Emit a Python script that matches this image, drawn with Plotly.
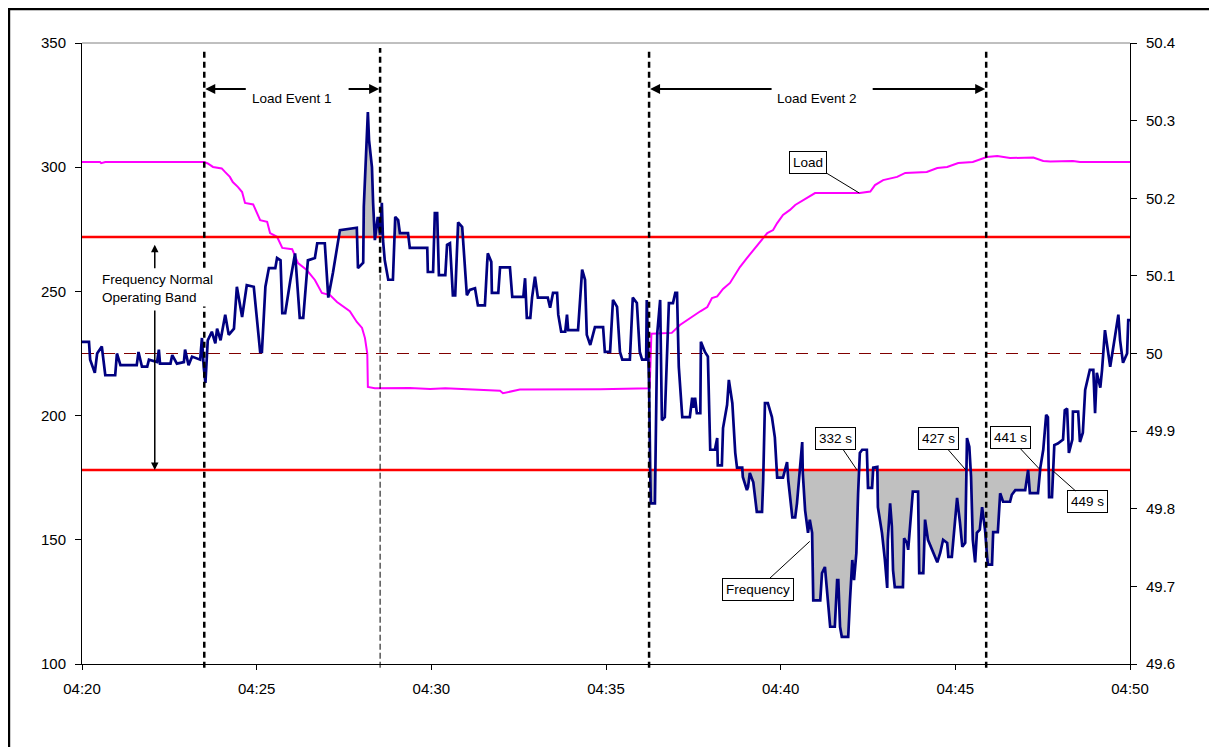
import plotly.graph_objects as go
import pandas as pd

base = pd.Timestamp('2024-01-01 04:20:00')

# Load (MW, left axis), seconds after 04:20:00
load_sec = [0, 31, 33, 40, 210, 216, 225, 240, 246, 254, 259, 268, 275, 280, 294, 301, 306, 318, 323, 335,
            344, 361, 371, 386, 400, 412, 426, 438, 448, 460, 472, 481, 486, 490, 491, 503, 563, 598, 624, 649,
            684, 718, 723, 732, 752, 890, 972, 975, 978, 1013, 1027, 1039, 1049, 1062, 1074, 1082, 1091, 1101,
            1113, 1122, 1130, 1142, 1153, 1165, 1177, 1187, 1194, 1204, 1216, 1225, 1233, 1245, 1259, 1336,
            1354, 1362, 1376, 1400, 1414, 1451, 1469, 1486, 1505, 1530, 1554, 1572, 1594, 1634, 1651, 1663,
            1702, 1714, 1800]
load_mw = [302.1, 302.1, 301.6, 302.1, 302.1, 301.5, 300.1, 299.5, 298.0, 296.1, 294.0, 292.0, 290.0, 285.6,
           285.0, 281.6, 278.7, 278.0, 273.5, 272.0, 267.5, 267.0, 261.4, 258.6, 254.6, 249.4, 248.5, 245.7,
           244.0, 242.0, 237.7, 235.3, 231.2, 225.0, 211.5, 211.0, 211.1, 210.7, 211.0, 210.8, 210.5, 210.0,
           209.0, 209.5, 210.5, 210.6, 210.7, 211.0, 233.0, 233.3, 236.5, 238.5, 240.0, 242.0, 243.7, 247.3,
           248.0, 251.0, 253.4, 256.6, 259.8, 263.4, 266.7, 269.9, 273.5, 274.7, 277.5, 280.8, 282.8, 284.8,
           286.0, 287.6, 289.6, 289.6, 290.2, 292.8, 294.8, 296.1, 297.7, 298.1, 299.7, 300.1, 301.7, 302.1,
           304.1, 304.5, 303.7, 303.9, 302.5, 302.3, 302.5, 302.1, 302.1]

# Frequency (Hz, right axis), seconds after 04:20:00
freq_sec = [0, 12, 14, 22, 26, 34, 40, 57, 60, 66, 94, 97, 103, 112, 115, 129, 132, 134, 152, 155, 163, 175,
            177, 183, 189, 203, 206, 209, 212, 216, 223, 229, 232, 238, 246, 252, 261, 263, 266, 275, 283, 295,
            301, 306, 309, 315, 321, 332, 335, 341, 344, 349, 358, 366, 374, 380, 388, 400, 404, 417, 423, 431,
            443, 472, 474, 483, 484, 490, 491, 493, 496, 498, 500, 503, 508, 512, 515, 517, 520, 526, 534, 538,
            543, 546, 560, 563, 593, 594, 603, 606, 610, 613, 624, 627, 632, 637, 641, 646, 653, 661, 666, 675,
            680, 692, 696, 697, 703, 704, 715, 718, 735, 739, 758, 761, 764, 770, 773, 778, 783, 800, 804, 809,
            816, 818, 823, 830, 833, 835, 852, 859, 864, 867, 873, 881, 895, 898, 907, 912, 919, 924, 928, 941,
            946, 953, 958, 962, 969, 970, 972, 974, 976, 977, 984, 986, 988, 993, 996, 1001, 1005, 1008, 1015,
            1019, 1022, 1025, 1031, 1044, 1048, 1050, 1053, 1056, 1062, 1063, 1070, 1075, 1079, 1087, 1091,
            1092, 1099, 1101, 1108, 1111, 1117, 1122, 1125, 1134, 1135, 1142, 1144, 1147, 1153, 1159, 1168,
            1170, 1173, 1178, 1185, 1190, 1194, 1204, 1211, 1213, 1220, 1225, 1228, 1233, 1237, 1238, 1242,
            1247, 1250, 1254, 1256, 1268, 1271, 1276, 1280, 1285, 1293, 1297, 1299, 1302, 1305, 1316, 1319,
            1323, 1326, 1330, 1333, 1336, 1340, 1348, 1350, 1357, 1359, 1366, 1367, 1374, 1379, 1383, 1384,
            1388, 1391, 1393, 1396, 1410, 1412, 1417, 1419, 1427, 1436, 1438, 1445, 1448, 1453, 1462, 1469,
            1474, 1479, 1486, 1488, 1494, 1496, 1503, 1508, 1512, 1517, 1520, 1524, 1527, 1530, 1534, 1537,
            1542, 1546, 1551, 1555, 1556, 1563, 1565, 1573, 1577, 1582, 1594, 1597, 1603, 1620, 1625, 1628,
            1642, 1646, 1651, 1656, 1659, 1661, 1666, 1670, 1676, 1685, 1688, 1692, 1695, 1701, 1702, 1711,
            1714, 1719, 1723, 1731, 1737, 1740, 1743, 1749, 1752, 1757, 1766, 1774, 1780, 1783, 1788, 1795,
            1797, 1800]
freq_hz = [50.015, 50.015, 49.992, 49.975, 50.000, 50.009, 49.972, 49.972, 50.000, 49.985, 49.985, 50.002,
           49.983, 49.983, 49.992, 49.989, 50.005, 49.987, 49.987, 49.998, 49.987, 49.989, 50.005, 49.985,
           49.996, 49.992, 50.020, 49.983, 49.962, 50.017, 50.028, 50.013, 50.032, 50.017, 50.050, 50.024,
           50.032, 50.058, 50.086, 50.047, 50.088, 50.086, 50.035, 50.002, 50.002, 50.086, 50.110, 50.110,
           50.123, 50.120, 50.052, 50.052, 50.095, 50.129, 50.046, 50.046, 50.120, 50.123, 50.142, 50.142,
           50.072, 50.104, 50.159, 50.162, 50.110, 50.117, 50.189, 50.311, 50.311, 50.275, 50.249, 50.240,
           50.194, 50.146, 50.176, 50.153, 50.194, 50.146, 50.120, 50.095, 50.095, 50.176, 50.172, 50.155,
           50.155, 50.136, 50.136, 50.105, 50.105, 50.181, 50.181, 50.101, 50.101, 50.140, 50.142, 50.075,
           50.075, 50.169, 50.163, 50.075, 50.082, 50.084, 50.062, 50.062, 50.118, 50.129, 50.118, 50.078,
           50.078, 50.111, 50.111, 50.073, 50.073, 50.097, 50.046, 50.046, 50.072, 50.099, 50.072, 50.072,
           50.059, 50.078, 50.078, 50.050, 50.028, 50.028, 50.050, 50.030, 50.030, 50.108, 50.095, 50.024,
           50.011, 50.034, 50.034, 50.002, 50.002, 50.069, 50.060, 50.002, 49.992, 49.992, 50.072, 50.065,
           50.002, 49.992, 49.992, 50.069, 50.017, 49.959, 49.846, 49.807, 49.807, 49.940, 50.026, 50.069,
           49.914, 49.918, 50.005, 50.065, 50.065, 50.078, 50.078, 49.983, 49.918, 49.918, 49.943, 49.930,
           49.943, 49.923, 49.923, 50.015, 50.002, 49.996, 49.876, 49.876, 49.891, 49.856, 49.856, 49.904,
           49.934, 49.966, 49.936, 49.872, 49.853, 49.853, 49.841, 49.824, 49.828, 49.846, 49.834, 49.796,
           49.796, 49.837, 49.936, 49.936, 49.918, 49.892, 49.840, 49.840, 49.860, 49.837, 49.789, 49.789,
           49.807, 49.854, 49.886, 49.846, 49.798, 49.769, 49.786, 49.769, 49.682, 49.682, 49.717, 49.725,
           49.695, 49.648, 49.648, 49.708, 49.708, 49.648, 49.635, 49.635, 49.682, 49.734, 49.708, 49.743,
           49.820, 49.872, 49.876, 49.876, 49.827, 49.827, 49.853, 49.854, 49.802, 49.769, 49.734, 49.698,
           49.760, 49.807, 49.777, 49.721, 49.699, 49.699, 49.762, 49.756, 49.747, 49.822, 49.822, 49.717,
           49.717, 49.786, 49.760, 49.743, 49.731, 49.743, 49.760, 49.756, 49.738, 49.738, 49.756, 49.814,
           49.782, 49.751, 49.756, 49.891, 49.880, 49.841, 49.760, 49.731, 49.769, 49.773, 49.802, 49.773,
           49.734, 49.728, 49.728, 49.770, 49.770, 49.820, 49.809, 49.809, 49.818, 49.824, 49.824, 49.850,
           49.820, 49.820, 49.853, 49.876, 49.921, 49.918, 49.815, 49.815, 49.882, 49.884, 49.889, 49.927,
           49.929, 49.872, 49.889, 49.925, 49.925, 49.886, 49.898, 49.953, 49.979, 49.979, 49.923, 49.975,
           49.956, 49.979, 50.030, 49.983, 50.021, 50.050, 50.017, 49.988, 50.000, 50.043, 50.043]

band_hi = 50.15
band_lo = 49.85
nominal = 50.0
freq_ticks = [49.6, 49.7, 49.8, 49.9, 50.0, 50.1, 50.2, 50.3, 50.4]
freq_tick_text = ['49.6', '49.7', '49.8', '49.9', '50', '50.1', '50.2', '50.3', '50.4']

event_names = ['Load Event 1', 'Load Event 2']
event_start = ['04:23:30', '04:36:14']
event_end = ['04:28:32', '04:45:53']

callout_labels = ['332 s', '427 s', '441 s', '449 s']
callout_times = ['04:42:11', '04:45:18', '04:47:26', '04:47:46']


def at(hms):
    return pd.Timestamp('2024-01-01 ' + hms)


def excursion(sec, vals, level, above):
    # area between the frequency and a band limit, only where it is outside the band
    xs, ys = [], []
    for i in range(len(vals)):
        if i > 0:
            a, b = vals[i - 1] - level, vals[i] - level
            if a * b < 0:
                xs.append(sec[i - 1] + (sec[i] - sec[i - 1]) * a / (a - b))
                ys.append(level)
        ys.append(max(vals[i], level) if above else min(vals[i], level))
        xs.append(sec[i])
    t = [base + pd.Timedelta(seconds=s) for s in xs]
    return t + t[::-1], ys + [level] * len(ys)


load_t = [base + pd.Timedelta(seconds=s) for s in load_sec]
freq_t = [base + pd.Timedelta(seconds=s) for s in freq_sec]
t_end = base + pd.Timedelta(minutes=30)

fig = go.Figure()

for level, above in [(band_hi, True), (band_lo, False)]:
    fx, fy = excursion(freq_sec, freq_hz, level, above)
    fig.add_trace(go.Scatter(x=fx, y=fy, yaxis='y2', fill='toself', fillcolor='#C0C0C0',
                             line=dict(width=0), mode='lines', hoverinfo='skip'))

for level in [band_hi, band_lo]:
    fig.add_trace(go.Scatter(x=[base, t_end], y=[level, level], yaxis='y2', mode='lines',
                             line=dict(color='#FF0000', width=2.5), hoverinfo='skip'))
fig.add_trace(go.Scatter(x=[base, t_end], y=[nominal, nominal], yaxis='y2', mode='lines',
                         line=dict(color='#800000', width=1, dash='12px,9px'), hoverinfo='skip'))

fig.add_trace(go.Scatter(x=load_t, y=load_mw, mode='lines', name='Load',
                         line=dict(color='#FF00FF', width=2)))
fig.add_trace(go.Scatter(x=freq_t, y=freq_hz, yaxis='y2', mode='lines', name='Frequency',
                         line=dict(color='#000080', width=2.7)))

shapes = []
for t in event_start + event_end:
    if t == event_end[0]:
        shapes.append(dict(type='line', xref='x', yref='paper', x0=at(t), x1=at(t), y0=0.63, y1=0.992,
                           line=dict(color='black', width=2.5, dash='6px,4px')))
        shapes.append(dict(type='line', xref='x', yref='paper', x0=at(t), x1=at(t), y0=-0.006, y1=0.63,
                           line=dict(color='black', width=1, dash='6px,3px')))
    else:
        shapes.append(dict(type='line', xref='x', yref='paper', x0=at(t), x1=at(t), y0=-0.006, y1=0.992,
                           line=dict(color='black', width=2.5, dash='6px,4px')))
# plot frame top and outer border
shapes.append(dict(type='line', xref='paper', yref='paper', x0=0, x1=1, y0=1, y1=1,
                   line=dict(color='#808080', width=1)))
shapes.append(dict(type='rect', xref='paper', yref='paper', x0=-0.0697, x1=1.2, y0=-0.2, y1=1.0548,
                   line=dict(color='black', width=2.5)))

font_s = dict(family='Liberation Sans', size=13.5, color='black')
ann = []
arrow_tails = [(43, -33), (124, -115)]
for name, t0, t1, (a0, a1) in zip(event_names, event_start, event_end, arrow_tails):
    mid = at(t0) + (at(t1) - at(t0)) / 2
    ann.append(dict(x=mid, y=0.926, xref='x', yref='paper', text=name, showarrow=False, font=font_s))
    ann.append(dict(x=at(t0), y=0.926, xref='x', yref='paper', text='', showarrow=True, ax=a0, ay=0,
                    arrowhead=2, arrowsize=1, arrowwidth=2, arrowcolor='black', standoff=1))
    ann.append(dict(x=at(t1), y=0.926, xref='x', yref='paper', text='', showarrow=True, ax=a1, ay=0,
                    arrowhead=2, arrowsize=1, arrowwidth=2, arrowcolor='black', standoff=1))

ann.append(dict(x=0.072, y=0.604, xref='paper', yref='paper', text='Frequency Normal<br>Operating Band',
                showarrow=False, align='left', xanchor='center', yanchor='middle', bgcolor='white',
                font=font_s))
ann.append(dict(x=at('04:22:05'), y=50.14, xref='x', yref='y2', text='', showarrow=True, ax=0, ay=25,
                arrowhead=2, arrowsize=1, arrowwidth=1.5, arrowcolor='black'))
ann.append(dict(x=at('04:22:05'), y=49.85, xref='x', yref='y2', text='', showarrow=True, ax=0, ay=-161,
                arrowhead=2, arrowsize=1, arrowwidth=1.5, arrowcolor='black'))

callout_box = dict(showarrow=True, arrowhead=0, arrowwidth=1, arrowcolor='black', bgcolor='white',
                   bordercolor='black', borderwidth=1, borderpad=3, font=font_s)
offsets = [(-21, -31), (-27, -31), (-30, -32), (36, 32)]
for lab, t, (dx, dy) in zip(callout_labels, callout_times, offsets):
    ann.append(dict(x=at(t), y=band_lo, xref='x', yref='y2', text=lab, ax=dx, ay=dy, **callout_box))
ann.append(dict(x=at('04:42:15'), y=289.6, xref='x', yref='y', text='Load', ax=-51, ay=-31, **callout_box))
ann.append(dict(x=at('04:40:50'), y=49.758, xref='x', yref='y2', text='Frequency', ax=-52, ay=48,
                **callout_box))

tick_font = dict(family='Liberation Sans', size=15, color='black')
fig.update_layout(
    width=1209, height=739,
    margin=dict(l=74, r=87, t=35, b=83),
    plot_bgcolor='white', paper_bgcolor='white',
    showlegend=False,
    font=dict(family='Liberation Sans', size=13, color='black'),
    shapes=shapes, annotations=ann,
    xaxis=dict(type='date', range=[base, t_end], tickformat='%H:%M', tick0=base, dtick=300000,
               ticks='outside', ticklen=5, tickcolor='black', showline=True, linecolor='black',
               linewidth=1, showgrid=False, zeroline=False, ticklabelstandoff=6, tickfont=tick_font),
    yaxis=dict(range=[100, 350], dtick=50, ticks='outside', ticklen=6, tickcolor='black',
               showline=True, linecolor='black', linewidth=1, showgrid=False, zeroline=False,
               ticklabelstandoff=6, tickfont=tick_font),
    yaxis2=dict(range=[49.6, 50.4], tickvals=freq_ticks, ticktext=freq_tick_text, overlaying='y',
                side='right', ticks='outside', ticklen=6, tickcolor='black', showline=True,
                linecolor='black', linewidth=1, showgrid=False, zeroline=False, ticklabelstandoff=6,
                tickfont=tick_font),
)

fig.write_html("out.html")
